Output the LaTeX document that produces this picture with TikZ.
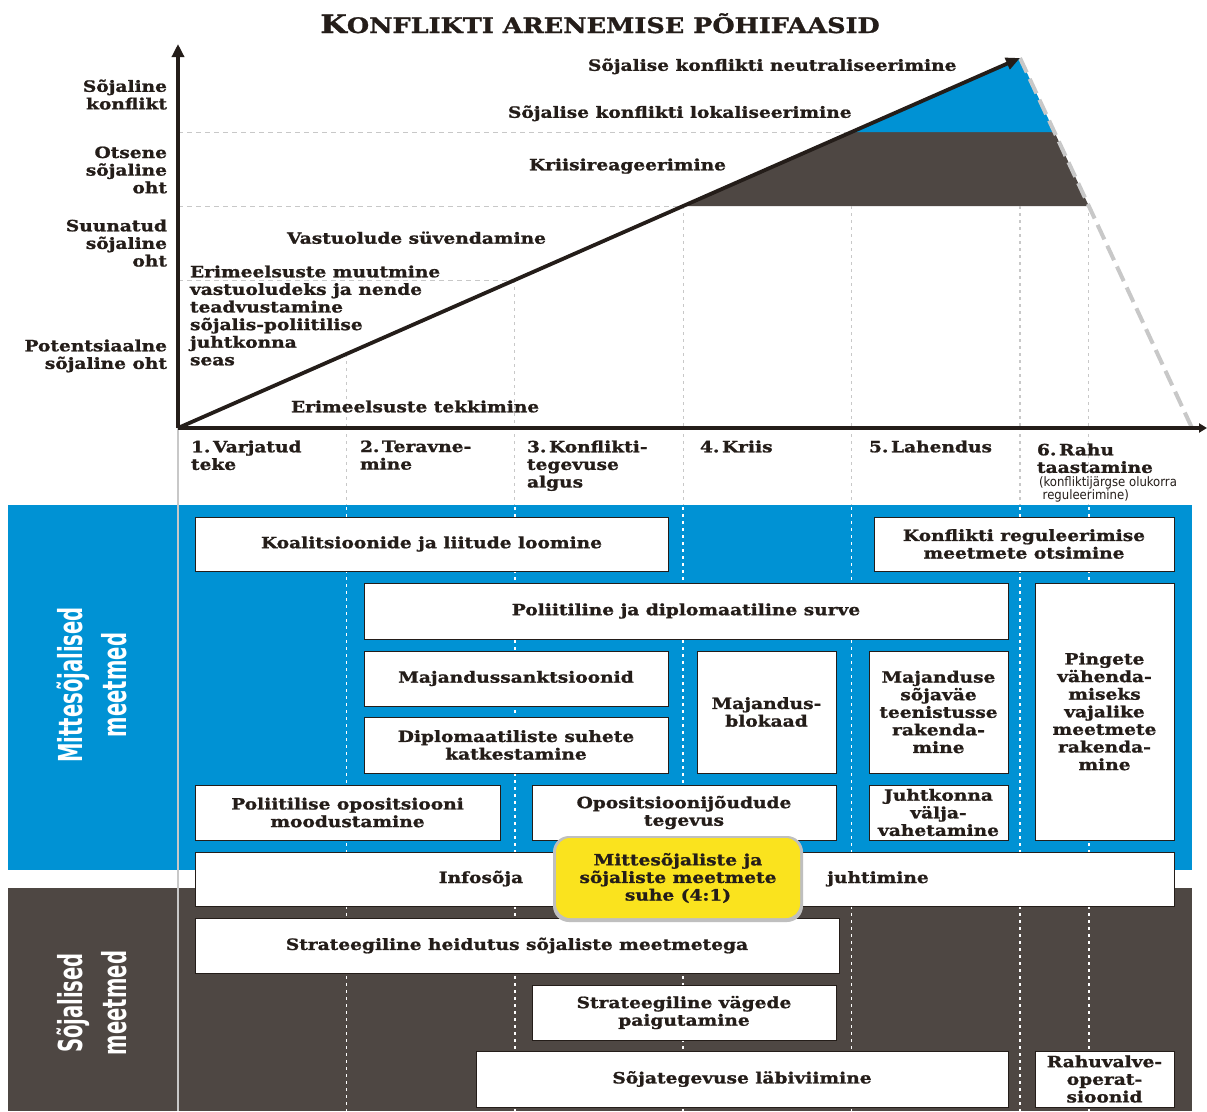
\documentclass[tikz,border=0pt]{standalone}
\usepackage{fontspec}
\usepackage{graphicx}
\setmainfont{DejaVu Serif}[FakeStretch=1.2, BoldFeatures={FakeBold=1.2}]
\newfontfamily\condsans{DejaVu Sans Condensed}
\usetikzlibrary{arrows.meta,calc}
\definecolor{cblue}{RGB}{0,146,212}
\definecolor{cdark}{RGB}{78,71,67}
\definecolor{cink}{RGB}{36,29,25}
\definecolor{cyel}{RGB}{250,227,30}
\definecolor{cgray}{RGB}{200,200,200}
\newcommand\lblfont{\fontsize{15.5}{17.6}\selectfont\bfseries}
\newcommand\mybox[6]{\node[box, minimum width={(#4-#2)*1pt}, minimum height={(#5-#3)*1pt}] (#1) at ({(#2+#4)/2},{(#3+#5)/2}) {#6};}
\begin{document}
\begin{tikzpicture}[x=1pt,y=-1pt,
  every node/.style={text=cink, inner sep=0pt, outer sep=0pt},
  box/.style={draw=cink, line width=0.9pt, fill=white, font=\lblfont, align=center},
  lbl/.style={font=\lblfont},
  axisline/.style={line width=3.5pt, draw=cink},
  guide/.style={draw=cgray, line width=1pt, dash pattern=on 5pt off 4pt},
  vdot/.style={draw=cgray, line width=1.3pt, dash pattern=on 3pt off 4pt},
  wdot/.style={draw=white, line width=1.5pt, dash pattern=on 3pt off 4pt},
  sidelbl/.style={rotate=90, text=white, align=center, font=\condsans\bfseries\fontsize{33}{44}\selectfont}
]
\useasboundingbox[fill=white] (0,0) rectangle (1207,1111);

% key points of the chart
\coordinate (O) at (178,428);
\coordinate (A) at (1020,58);
\coordinate (E) at (1192,428);
\coordinate (ytop) at (178,44);
\coordinate (xend) at (1207,428);
\coordinate (D1) at ($(O)!0.2!(A)$);
\coordinate (L3) at ($(O)!0.4!(A)$);
\coordinate (L2) at ($(O)!0.6!(A)$);
\coordinate (L1) at ($(O)!0.8!(A)$);
\coordinate (R1) at ($(A)!0.2!(E)$);
\coordinate (R2) at ($(A)!0.4!(E)$);

% filled phases
\fill[cdark] (L2) -- (L1) -- (R1) -- (R2) -- cycle;
\fill[cblue] (L1) -- (A) -- (R1) -- cycle;

% guides
\draw[guide] (O |- L1) -- (L1);
\draw[guide] (O |- L2) -- (L2);
\draw[guide] (O |- L3) -- (L3);
\draw[vdot] (D1) -- (D1 |- O);
\draw[vdot] (L3) -- (L3 |- O);
\draw[vdot] (L2) -- (L2 |- O);
\draw[vdot] (L1 |- L2) -- (L1 |- O);
\draw[vdot] (A |- L2) -- (A |- O);
\draw[vdot] (R2) -- (R2 |- O);

% descending dashed line
\draw[draw=cgray, line width=4pt, dash pattern=on 16pt off 7pt] (A) -- (E);

% panels
\fill[cblue] (8,505) rectangle (1192,870);
\fill[cdark] (8,888) rectangle (1192,1111);
\draw[cgray, line width=1.5pt] (O) -- (178,1111);
\foreach \cx in {346.4,514.8,683.2,851.6,1020,1088.8}{
  \draw[vdot] (\cx,434) -- (\cx,505);
  \draw[wdot] (\cx,507) -- (\cx,1111);
}

% axes and main arrow
\draw[axisline, -{Triangle[width=12pt,length=13pt]}] (O) -- (ytop);
\draw[axisline, -{Triangle[width=9pt,length=8pt]}] (O) -- (xend);
\draw[line width=3.8pt, draw=cink, -{Triangle[width=12pt,length=14pt]}] (O) -- (A);

% title
\node[anchor=base, font=\bfseries] (title) at (600,33) {{\fontsize{25.5}{25.5}\selectfont K}{\fontsize{21.3}{21.3}\selectfont ONFLIKTI ARENEMISE PÕHIFAASID}};

% y-axis labels
\node[lbl, anchor=north east, align=right] (y1) at (167,79.5) {Sõjaline\\konflikt};
\node[lbl, anchor=north east, align=right] (y2) at (167,146.5) {Otsene\\sõjaline\\oht};
\node[lbl, anchor=north east, align=right] (y3) at (167,219.5) {Suunatud\\sõjaline\\oht};
\node[lbl, anchor=north east, align=right] (y4) at (167,339.5) {Potentsiaalne\\sõjaline oht};

% chart labels
\node[lbl, anchor=north west] (c1) at (588,58.5) {Sõjalise konflikti neutraliseerimine};
\node[lbl, anchor=north west] (c2) at (508,105.5) {Sõjalise konflikti lokaliseerimine};
\node[lbl, anchor=north west] (c3) at (529,158.5) {Kriisireageerimine};
\node[lbl, anchor=north west] (c4) at (287,231.5) {Vastuolude süvendamine};
\node[lbl, anchor=north west, align=left] (c5) at (190,265.5) {Erimeelsuste muutmine\\vastuoludeks ja nende\\teadvustamine\\sõjalis-poliitilise\\juhtkonna\\seas};
\node[lbl, anchor=north west] (c6) at (291,400.5) {Erimeelsuste tekkimine};

% stage labels
\node[lbl, anchor=north west, align=left] (s1) at (191,440.5) {1.\,Varjatud\\teke};
\node[lbl, anchor=north west, align=left] (s2) at (360,440.5) {2.\,Teravne-\\mine};
\node[lbl, anchor=north west, align=left] (s3) at (527,440.5) {3.\,Konflikti-\\tegevuse\\algus};
\node[lbl, anchor=north west, align=left] (s4) at (700,440.5) {4.\,Kriis};
\node[lbl, anchor=north west, align=left] (s5) at (869,440.5) {5.\,Lahendus};
\node[lbl, anchor=north west, align=left] (s6) at (1037,443.5) {6.\,Rahu\\taastamine};
\node[anchor=north west, align=left, font=\condsans\fontsize{13}{11}\selectfont] (s6note) at (1039,476.5) {(konfliktijärgse olukorra\\\ reguleerimine)};

% side labels
\node[sidelbl] (mitte) at (92,685) {\scalebox{0.66}[1]{Mittesõjalised}\\\scalebox{0.66}[1]{meetmed}};
\node[sidelbl] (soj) at (92,1003) {\scalebox{0.66}[1]{Sõjalised}\\\scalebox{0.66}[1]{meetmed}};

% boxes
\mybox{koal}{195}{517}{668}{571}{Koalitsioonide ja liitude loomine}
\mybox{konfreg}{874}{517}{1174}{571}{Konflikti reguleerimise\\meetmete otsimine}
\mybox{surve}{364}{583}{1008}{639}{Poliitiline ja diplomaatiline surve}
\mybox{pinget}{1035}{583}{1174}{840}{Pingete\\vähenda-\\miseks\\vajalike\\meetmete\\rakenda-\\mine}
\mybox{sankt}{364}{651}{668}{706}{Majandussanktsioonid}
\mybox{diplo}{364}{717}{668}{773}{Diplomaatiliste suhete\\katkestamine}
\mybox{blokaad}{697}{651}{836}{773}{Majandus-\\blokaad}
\mybox{majsoj}{869}{651}{1008}{773}{Majanduse\\sõjaväe\\teenistusse\\rakenda-\\mine}
\mybox{opos}{195}{785}{500}{840}{Poliitilise opositsiooni\\moodustamine}
\mybox{oposj}{532}{785}{836}{840}{Opositsioonijõudude\\tegevus}
\mybox{juht}{869}{785}{1008}{840}{\fontsize{15.5}{15}\selectfont Juhtkonna\\välja-\\vahetamine}
\mybox{info}{195}{852}{1174}{906}{}
\mybox{heid}{195}{918}{839}{973}{Strateegiline heidutus sõjaliste meetmetega}
\mybox{vage}{532}{985}{836}{1040}{Strateegiline vägede\\paigutamine}
\mybox{soja}{476}{1051}{1008}{1107}{Sõjategevuse läbiviimine}
\mybox{rahu}{1035}{1051}{1174}{1107}{Rahuvalve-\\operat-\\sioonid}
\node[lbl, anchor=base] (infotxt) at (481,883) {Infosõja};
\node[lbl, anchor=base] (juhttxt) at (878,883) {juhtimine};

% ratio callout
\fill[black!25, rounded corners=16pt] (553,836) rectangle (803,922);
\node[fill=cyel, rounded corners=14pt, minimum width=244pt, minimum height=80pt, font=\lblfont, align=center] (ratio) at (678,878) {Mittesõjaliste ja\\sõjaliste meetmete\\suhe (4:1)};
\end{tikzpicture}
\end{document}
